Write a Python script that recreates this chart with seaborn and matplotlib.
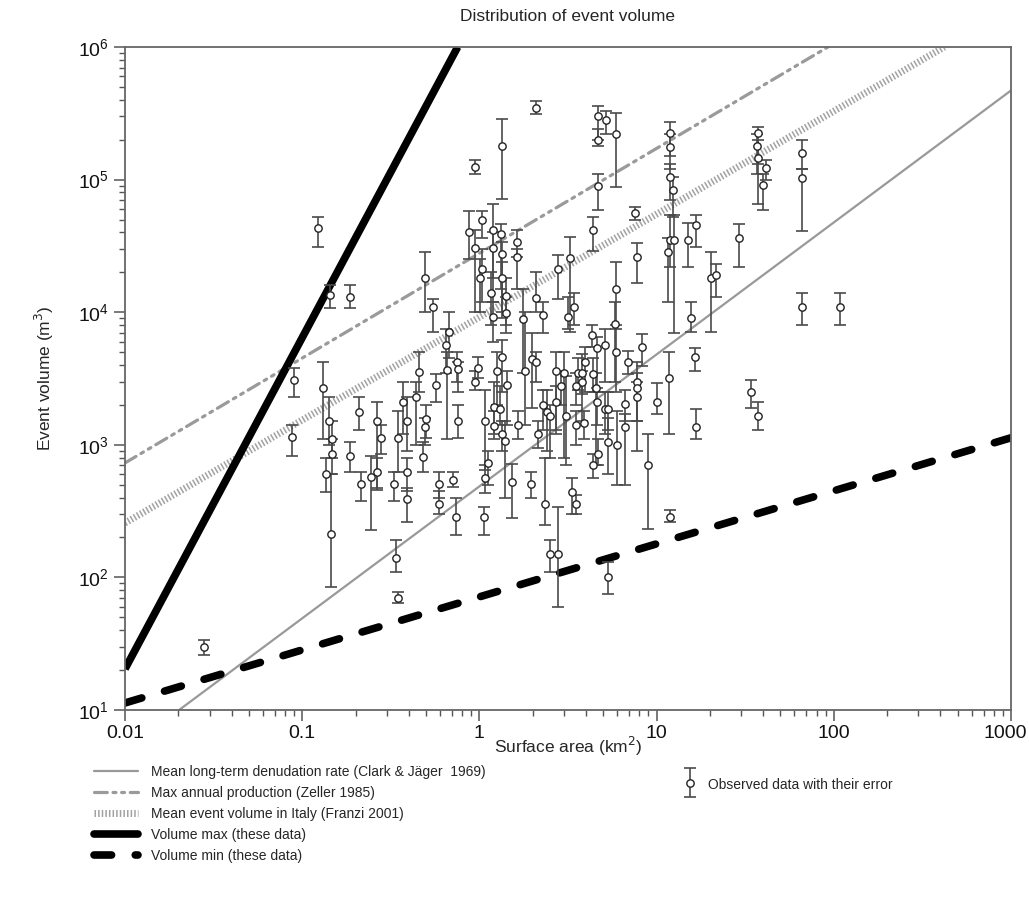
import matplotlib
matplotlib.use('Agg')
import matplotlib.pyplot as plt
from matplotlib.container import ErrorbarContainer
from matplotlib.lines import Line2D
from matplotlib.legend_handler import HandlerTuple, HandlerErrorbar
from matplotlib.ticker import FixedLocator, FixedFormatter, LogLocator, NullFormatter
from matplotlib.transforms import ScaledTranslation
import numpy as np
import pandas as pd
import seaborn as sns

# observed events: surface area (km2), volume (m3) and error range
area = [0.028, 0.123, 0.088, 0.090, 0.144, 0.186, 0.49, 0.55, 0.675, 0.65,
        0.66, 0.75, 0.76, 0.76, 0.456, 0.57, 0.44, 0.37, 0.39, 0.50,
        0.49, 0.48, 0.345, 0.278, 0.265, 0.21, 0.186, 0.142, 0.147, 0.147,
        0.136, 0.131, 0.215, 0.245, 0.265, 0.33, 0.39, 0.39, 0.59, 0.71,
        0.59, 0.74, 0.145, 0.34, 0.345,
        2.08, 1.34, 0.95, 4.67, 5.2, 4.67, 5.9, 4.67, 4.4, 3.24,
        2.76, 1.63, 1.63, 0.87, 1.04, 1.2, 1.33, 0.95, 1.2, 1.34,
        1.04, 1.01, 1.34, 1.16, 1.41, 2.1, 5.9,
        1.2, 1.41, 1.77, 2.29, 3.4, 3.15, 5.8, 5.9, 4.3, 5.1,
        4.6, 1.34, 0.98, 0.95, 1.25, 1.43, 1.97, 2.08, 1.8, 2.7,
        3.0, 2.9, 2.7, 3.6, 3.8, 3.95, 4.4, 3.8, 3.5, 4.55,
        4.6, 1.21, 1.3, 1.07, 1.21, 1.34, 1.39, 1.66, 2.3, 2.4,
        2.5, 2.15, 3.1, 3.5, 3.9, 5.1, 5.3, 5.3, 6.0, 4.67,
        4.4, 1.12, 1.07, 1.53, 1.95, 3.35, 3.5, 2.35, 1.06, 2.5,
        2.76, 5.3,
        11.9, 11.9, 11.9, 12.4, 7.6, 7.8, 11.9, 11.6, 12.6, 15.0,
        16.6, 20.3, 21.5, 29.2, 37.3, 37.0, 37.3, 41.7, 39.8,
        15.6, 16.5, 6.9, 8.3, 7.8, 7.8, 7.8, 6.6, 6.6, 10.0,
        11.7, 8.9, 16.6, 11.9, 34.1, 37.2,
        66, 66, 66, 108]
volume = [30, 4.3e4, 1150, 3080, 1.35e4, 1.3e4, 1.8e4, 1.1e4, 7.1e3, 5.7e3,
          3.66e3, 4.2e3, 3.7e3, 1.5e3, 3.54e3, 2.83e3, 2.3e3, 2.1e3, 1.5e3, 1.56e3,
          1.36e3, 810, 1.12e3, 1.12e3, 1.5e3, 1.77e3, 820, 1.5e3, 1.1e3, 850,
          600, 2.7e3, 506, 571, 620, 506, 620, 390, 506, 545,
          358, 286, 212, 140, 70,
          3.47e5, 1.79e5, 1.24e5, 3.0e5, 2.8e5, 2.0e5, 2.2e5, 8.95e4, 4.2e4, 2.57e4,
          2.12e4, 3.4e4, 2.6e4, 4.0e4, 5.0e4, 4.2e4, 3.9e4, 3.05e4, 3.05e4, 2.75e4,
          2.12e4, 1.8e4, 1.8e4, 1.4e4, 1.33e4, 1.27e4, 1.5e4,
          9.2e3, 9.9e3, 8.9e3, 9.5e3, 1.1e4, 9.2e3, 8.1e3, 5.0e3, 6.7e3, 5.7e3,
          5.4e3, 4.6e3, 3.8e3, 3.0e3, 3.6e3, 2.83e3, 4.4e3, 4.2e3, 3.6e3, 3.6e3,
          3.5e3, 2.8e3, 2.1e3, 3.5e3, 3.5e3, 4.2e3, 3.4e3, 3.0e3, 2.8e3, 2.7e3,
          2.1e3, 1.93e3, 1.85e3, 1.5e3, 1.39e3, 1.2e3, 1.07e3, 1.4e3, 2.0e3, 1.77e3,
          1.65e3, 1.2e3, 1.65e3, 1.4e3, 1.45e3, 1.85e3, 1.85e3, 1.05e3, 1.0e3, 850,
          704, 725, 560, 525, 505, 440, 355, 355, 286, 150,
          150, 100,
          2.24e5, 1.76e5, 1.05e5, 8.4e4, 5.6e4, 2.6e4, 3.5e4, 2.84e4, 3.5e4, 3.5e4,
          4.55e4, 1.8e4, 1.9e4, 3.6e4, 2.24e5, 1.8e5, 1.46e5, 1.22e5, 9.1e4,
          9.0e3, 4.6e3, 4.2e3, 5.5e3, 3.0e3, 2.7e3, 2.3e3, 2.03e3, 1.37e3, 2.1e3,
          3.2e3, 704, 1.37e3, 286, 2.5e3, 1.65e3,
          1.6e5, 1.03e5, 1.1e4, 1.1e4]
vol_lo = [26, 3.1e4, 830, 2300, 1.08e4, 1.08e4, 1.0e4, 7.1e3, 4.5e3, 3.5e3,
          1.1e3, 3.0e3, 2.5e3, 1.13e3, 2.5e3, 2.1e3, 1.0e3, 1.2e3, 900, 1.13e3,
          1.0e3, 620, 620, 850, 456, 1.3e3, 620, 1.0e3, 800, 600,
          440, 1.1e3, 380, 227, 470, 380, 450, 260, 400, 480,
          300, 209, 85, 110, 64,
          3.1e5, 7.1e4, 1.1e5, 2.0e5, 2.2e5, 1.8e5, 8.8e4, 5.9e4, 2.9e4, 7.1e3,
          1.25e4, 2.6e4, 1.5e4, 2.5e4, 3.6e4, 1.8e4, 1.5e4, 1.0e4, 1.2e4, 9e3,
          1.2e4, 1e4, 1e4, 8e3, 8e3, 1.0e4, 8e3,
          6e3, 7e3, 3.5e3, 7e3, 8e3, 7.5e3, 3e3, 2.5e3, 5.5e3, 3e3,
          2.5e3, 2.5e3, 3.2e3, 2.6e3, 2.0e3, 1.4e3, 1.9e3, 3e3, 1.4e3, 1.2e3,
          800, 2.0e3, 1.3e3, 2.6e3, 2.4e3, 2.5e3, 2.5e3, 1.5e3, 2e3, 700,
          1.4e3, 1.2e3, 1.4e3, 650, 1.1e3, 900, 400, 1.1e3, 1.3e3, 900,
          800, 950, 700, 1.0e3, 1.1e3, 1.2e3, 1.3e3, 600, 500, 700,
          560, 500, 430, 280, 400, 300, 300, 250, 209, 110,
          60, 75,
          1.5e5, 1.2e5, 7e4, 5.2e4, 5.0e4, 1.65e4, 2.2e4, 1.2e4, 7e3, 2.2e4,
          3.1e4, 7.1e3, 1.3e4, 2.2e4, 1.3e5, 1.1e5, 6.6e4, 1.0e5, 5.9e4,
          7.1e3, 3.6e3, 3.4e3, 3.9e3, 900, 1.5e3, 1.5e3, 1.5e3, 500, 1.7e3,
          1.2e3, 230, 1.1e3, 260, 1.9e3, 1.3e3,
          1.2e5, 4.1e4, 8.0e3, 8.0e3]
vol_hi = [34, 5.2e4, 1400, 3800, 1.6e4, 1.6e4, 2.85e4, 1.25e4, 1.0e4, 7.5e3,
          5.0e3, 5.0e3, 4.2e3, 2.0e3, 5.0e3, 3.4e3, 3.0e3, 3.0e3, 2.3e3, 2.0e3,
          1.6e3, 1.05e3, 1.8e3, 1.4e3, 2.1e3, 2.3e3, 1.05e3, 2.3e3, 1.5e3, 1.1e3,
          800, 4.2e3, 620, 820, 800, 620, 800, 470, 620, 620,
          450, 400, 600, 190, 78,
          3.9e5, 2.87e5, 1.4e5, 3.6e5, 3.3e5, 2.4e5, 3.2e5, 1.1e5, 5.2e4, 3.7e4,
          2.7e4, 4.2e4, 3.0e4, 5.8e4, 5.8e4, 6.6e4, 4.6e4, 4.2e4, 4.0e4, 3.4e4,
          3.0e4, 2.5e4, 2.4e4, 2.0e4, 1.8e4, 2.0e4, 2.4e4,
          1.2e4, 1.3e4, 1.5e4, 1.2e4, 1.4e4, 1.3e4, 1.2e4, 7.5e3, 8e3, 7.5e3,
          6.5e3, 6.2e3, 4.6e3, 3.6e3, 5.0e3, 3.6e3, 7e3, 5e3, 1e4, 5e3,
          5e3, 3.6e3, 2.8e3, 4.5e3, 4.8e3, 5.5e3, 4.5e3, 3.6e3, 3.5e3, 3.5e3,
          2.7e3, 3e3, 2.8e3, 2.6e3, 1.8e3, 1.5e3, 1.5e3, 1.8e3, 2.6e3, 2.6e3,
          2.0e3, 1.5e3, 3.3e3, 1.8e3, 1.8e3, 2.5e3, 2.5e3, 1.6e3, 1.8e3, 1.1e3,
          850, 900, 700, 720, 620, 560, 420, 800, 340, 190,
          340, 130,
          2.7e5, 2.2e5, 1.3e5, 1.05e5, 6.2e4, 3.3e4, 5.4e4, 3.6e4, 5.4e4, 4.7e4,
          5.4e4, 2.85e4, 2.3e4, 4.6e4, 2.5e5, 2.2e5, 2.0e5, 1.4e5, 1.1e5,
          1.2e4, 5.4e3, 5.1e3, 6.8e3, 4.2e3, 3.5e3, 3e3, 2.6e3, 1.7e3, 2.9e3,
          5.0e3, 1.2e3, 1.85e3, 320, 3.1e3, 2.1e3,
          2.0e5, 1.2e5, 1.4e4, 1.4e4]

# reference lines, end points
denud_x, denud_y = [0.0202, 1000], [10, 4.7e5]
zeller_x, zeller_y = [0.01, 92.7], [730, 1e6]
franzi_x, franzi_y = [0.01, 420], [257, 1e6]
vmax_x, vmax_y = [0.01, 0.754], [20.4, 1e6]
vmin_x, vmin_y = [0.01, 1000], [11.3, 1130]

line_labels = ['Mean long-term denudation rate (Clark & Jäger  1969)',
               'Max annual production (Zeller 1985)',
               'Mean event volume in Italy (Franzi 2001)',
               'Volume max (these data)',
               'Volume min (these data)']
x_ticks = [0.01, 0.1, 1, 10, 100, 1000]
x_ticklabels = ['0.01', '0.1', '1', '10', '100', '1000']

df = pd.DataFrame({'area': area, 'volume': volume, 'lo': vol_lo, 'hi': vol_hi})

sns.set_theme(style='ticks')
plt.rcParams['font.family'] = ['Liberation Sans', 'DejaVu Sans']

fig = plt.figure(figsize=(10.29, 9.18), dpi=100)
ax = fig.add_axes([125 / 1029, 1 - 710 / 918, 886 / 1029, 663 / 918])
ax.set_xscale('log')
ax.set_yscale('log')
ax.set_xlim(0.01, 1000)
ax.set_ylim(10, 1e6)

styles = [
    dict(x=denud_x, y=denud_y, color='#999999', lw=1.6, linestyle='-'),
    dict(x=zeller_x, y=zeller_y, color='#9a9a9a', lw=2.3,
         linestyle=(0, (4, 1.8, 0.9, 1.8, 0.9, 1.8))),
    dict(x=franzi_x, y=franzi_y, color='#a2a2a2', lw=5,
         linestyle=(0, (0.22, 0.3))),
    dict(x=vmax_x, y=vmax_y, color='black', lw=5.5, linestyle='-'),
    dict(x=vmin_x, y=vmin_y, color='black', lw=5.5,
         linestyle=(0, (2.3, 3.1))),
]
handles = []
for st in styles:
    sns.lineplot(x=st['x'], y=st['y'], ax=ax, color=st['color'], lw=st['lw'],
                 linestyle=st['linestyle'], dash_capstyle='round',
                 solid_capstyle='butt', zorder=2)
    handles.append(Line2D([], [], color=st['color'], lw=st['lw'],
                          linestyle=st['linestyle'], dash_capstyle='round'))
# the dotted line looks striped: butt caps
ax.lines[2].set_dash_capstyle('butt')
handles[2].set_dash_capstyle('butt')

err = ax.errorbar(df['area'], df['volume'],
                  yerr=[df['volume'] - df['lo'], df['hi'] - df['volume']],
                  fmt='none', ecolor='#4a4a4a', elinewidth=1.2, capsize=4.3,
                  capthick=1.2, zorder=3)
sns.scatterplot(data=df, x='area', y='volume', ax=ax, s=28, color='white',
                edgecolor='#222222', linewidth=1.0, zorder=4, legend=False)

ax.xaxis.set_major_locator(FixedLocator(x_ticks))
ax.xaxis.set_major_formatter(FixedFormatter(x_ticklabels))
ax.xaxis.set_minor_locator(LogLocator(base=10, subs=np.arange(2, 10)))
ax.xaxis.set_minor_formatter(NullFormatter())
ax.yaxis.set_minor_locator(LogLocator(base=10, subs=np.arange(2, 10)))
ax.yaxis.set_minor_formatter(NullFormatter())
ax.tick_params(which='major', direction='out', length=8, width=1.1,
               color='#555555', labelsize=14, labelcolor='#111111')
ax.tick_params(which='minor', direction='out', length=4.5, width=1.0,
               color='#555555')
ax.tick_params(axis='x', pad=3)
for sp in ax.spines.values():
    sp.set_color('#666666')
    sp.set_linewidth(1.3)

# keep the last x label inside the canvas
fig.canvas.draw()
last = ax.get_xticklabels()[-1]
last.set_transform(last.get_transform() + ScaledTranslation(-0.06, 0, fig.dpi_scale_trans))

ax.set_xlabel('Surface area (km$^2$)', fontsize=12.5, labelpad=-5)
ax.set_ylabel('Event volume (m$^3$)', fontsize=12.5, labelpad=16)
ax.set_title('Distribution of event volume', fontsize=12.5, pad=19)

fig.legend(handles, line_labels, loc='upper left',
           bbox_to_anchor=(94 / 1029, 1 - 765 / 918), frameon=False,
           fontsize=10, handlelength=3.2, handletextpad=0.9,
           labelspacing=0.5, borderpad=0, borderaxespad=0)
obs_marker = Line2D([], [], linestyle='none', marker='o', markersize=5.3,
                    markerfacecolor='white', markeredgecolor='#222222',
                    markeredgewidth=1.0)
fig.legend([(err, obs_marker)], ['Observed data with their error'],
           handler_map={tuple: HandlerTuple(ndivide=1),
                        ErrorbarContainer: HandlerErrorbar(yerr_size=1.05)},
           loc='upper left', bbox_to_anchor=(683 / 1029, 1 - 776 / 918),
           frameon=False, fontsize=10, handlelength=1.0, handleheight=1.6,
           handletextpad=0.8, borderpad=0, borderaxespad=0)

fig.savefig('out.png', dpi=100)
